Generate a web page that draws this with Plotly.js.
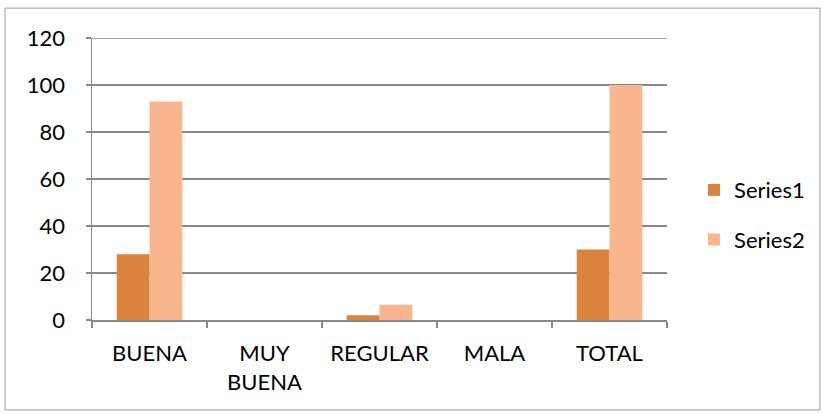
<!DOCTYPE html>
<html><head><meta charset="utf-8">
<script src="https://cdn.plot.ly/plotly-3.0.1.min.js"></script>
<style>body{margin:0;background:#fff}#c{width:823px;height:414px}</style>
</head><body><div id="c"></div>
<script>
const categories = ["BUENA", "MUY<br>BUENA", "REGULAR", "MALA", "TOTAL"];
const series1 = [28, 0, 2, 0, 30];
const series2 = [93, 0, 6.5, 0, 100];
const yTicks = [0, 20, 40, 60, 80, 100, 120];

const font = {family: "Lato, 'Open Sans', sans-serif", size: 22, color: "#000"};
const data = [
  {type: "bar", name: "Series1", x: categories, y: series1, marker: {color: "#DB843D"}, legendgroup: "a"},
  {type: "bar", name: "Series2", x: categories, y: series2, marker: {color: "#F9B58D"}, legendgroup: "b"}
];
const layout = {
  width: 823, height: 414,
  margin: {l: 92, r: 156, t: 38, b: 94},
  paper_bgcolor: "#fff", plot_bgcolor: "#fff",
  font: font,
  barmode: "group", bargap: 0.43, bargroupgap: 0,
  showlegend: true,
  legend: {x: 1.047, y: 0.372, yanchor: "middle", xanchor: "left", font: font, traceorder: "grouped", tracegroupgap: 18, itemwidth: 30},
  xaxis: {
    type: "category", tickson: "boundaries", ticks: "outside", ticklen: 6, tickcolor: "#888", tickwidth: 1.5,
    showline: true, linecolor: "#888", linewidth: 1.5, showgrid: false, tickfont: font, ticklabelstandoff: 13, automargin: false
  },
  yaxis: {
    range: [0, 120], tickvals: yTicks, ticks: "outside", ticklen: 5, tickcolor: "#888", tickwidth: 1.5,
    showline: true, linecolor: "#888", linewidth: 1.5, showgrid: true, gridcolor: "#888", gridwidth: 1.5,
    zeroline: false, tickfont: font, ticklabelstandoff: 16, automargin: false
  },
  shapes: [
    {type: "rect", xref: "paper", yref: "paper", x0: -0.1513, x1: 1.266, y0: -0.319, y1: 1.106,
      line: {color: "#999", width: 1}, fillcolor: "rgba(0,0,0,0)"},
    {type: "line", xref: "paper", yref: "y", x0: 0, x1: 1, y0: 120, y1: 120, line: {color: "#888", width: 1.5}}
  ]
};
Plotly.newPlot("c", data, layout, {displayModeBar: false, staticPlot: true});
</script></body></html>
